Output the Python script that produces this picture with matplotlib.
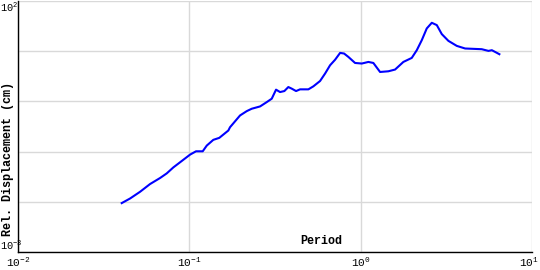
import numpy as np
import matplotlib
matplotlib.use("Agg")
import matplotlib.pyplot as plt
import matplotlib.transforms as mtransforms
from matplotlib.ticker import FixedLocator, FixedFormatter, NullLocator

plt.rcParams['mathtext.fontset'] = 'custom'
plt.rcParams['mathtext.rm'] = 'Liberation Mono'
plt.rcParams['mathtext.it'] = 'Liberation Mono'
plt.rcParams['font.family'] = ['Liberation Mono', 'DejaVu Sans']

# period (s) and relative displacement (cm)
period = [0.0403, 0.0451, 0.0516, 0.0590, 0.0675, 0.0738, 0.0807, 0.0882,
          0.1010, 0.1094, 0.1197, 0.1264, 0.1380, 0.1496, 0.1689, 0.1728,
          0.1977, 0.2163, 0.2313, 0.2587, 0.2830, 0.3027, 0.3207, 0.3385,
          0.3586, 0.3783, 0.3960, 0.4197, 0.4428, 0.4952, 0.5296, 0.5794,
          0.6197, 0.6629, 0.7091, 0.7586, 0.8000, 0.8478, 0.9275, 1.015,
          1.109, 1.186, 1.298, 1.451, 1.588, 1.775, 1.987, 2.126, 2.274,
          2.431, 2.601, 2.782, 2.975, 3.251, 3.639, 4.07, 5.09, 5.57, 5.83,
          6.09, 6.45]
displacement = [0.00942, 0.01164, 0.01585, 0.0226, 0.0298, 0.0368, 0.0485,
                0.0611, 0.0871, 0.1014, 0.1014, 0.1318, 0.1714, 0.1879,
                0.263, 0.306, 0.525, 0.640, 0.714, 0.794, 0.968, 1.132,
                1.714, 1.535, 1.607, 1.932, 1.795, 1.607, 1.738, 1.738,
                1.995, 2.547, 3.581, 5.248, 6.761, 9.25, 8.99, 7.69, 5.83,
                5.68, 6.11, 5.83, 3.855, 3.98, 4.31, 6.11, 7.35, 10.47,
                16.6, 28.4, 36.8, 33.1, 21.9, 16.07, 12.76, 11.32, 10.96,
                10.14, 10.47, 9.68, 8.71]

x_ticks = [0.01, 0.1, 1, 10]
x_labels = [r'$10^{-2}$', r'$10^{-1}$', r'$10^{0}$', r'$10^{1}$']
y_ticks = [0.001, 0.01, 0.1, 1, 10, 100]
y_labels = [r'$10^{-3}$', '', '', '', '', r'$10^{2}$']

fig = plt.figure(figsize=(5.4, 2.7), dpi=100)
ax = fig.add_axes([18 / 540, 1 - 252 / 270, 514 / 540, 251 / 270])

ax.plot(period, displacement, color='#0000ff', linewidth=1.5)

ax.set_xscale('log')
ax.set_yscale('log')
ax.set_xlim(0.01, 10)
ax.set_ylim(0.001, 100)

ax.xaxis.set_major_locator(FixedLocator(x_ticks))
ax.yaxis.set_major_locator(FixedLocator(y_ticks))
ax.xaxis.set_minor_locator(NullLocator())
ax.yaxis.set_minor_locator(NullLocator())
ax.xaxis.set_major_formatter(FixedFormatter(x_labels))
ax.yaxis.set_major_formatter(FixedFormatter(y_labels))
ax.tick_params(axis='both', length=0, colors='black')
# y labels start at the figure's left edge (axis sits 18 px in)
ax.tick_params(axis='y', pad=12.6, labelsize=7.4)
ax.tick_params(axis='x', pad=3, labelsize=8)

ylabs = ax.get_yticklabels()
for lab in ylabs:
    lab.set_horizontalalignment('left')
ylabs[0].set_verticalalignment('bottom')
ylabs[-1].set_verticalalignment('top')
xlabs = ax.get_xticklabels()
shift = mtransforms.ScaledTranslation(-3 / 100, 0, fig.dpi_scale_trans)
xlabs[-1].set_transform(xlabs[-1].get_transform() + shift)

ax.grid(True, color='#d9d9d9', linewidth=1)
ax.set_axisbelow(True)
for side in ['top', 'right']:
    ax.spines[side].set_visible(False)
for side in ['left', 'bottom']:
    ax.spines[side].set_linewidth(1)

ax.text(0.59, 0.02, 'Period', transform=ax.transAxes, ha='center', va='bottom',
        fontsize=8.5, fontweight='bold')
fig.text(8 / 540, 1 - 159 / 270, 'Rel. Displacement (cm)', rotation=90,
         ha='center', va='center', fontsize=8.5, fontweight='bold')

fig.savefig('out.png', dpi=100)
